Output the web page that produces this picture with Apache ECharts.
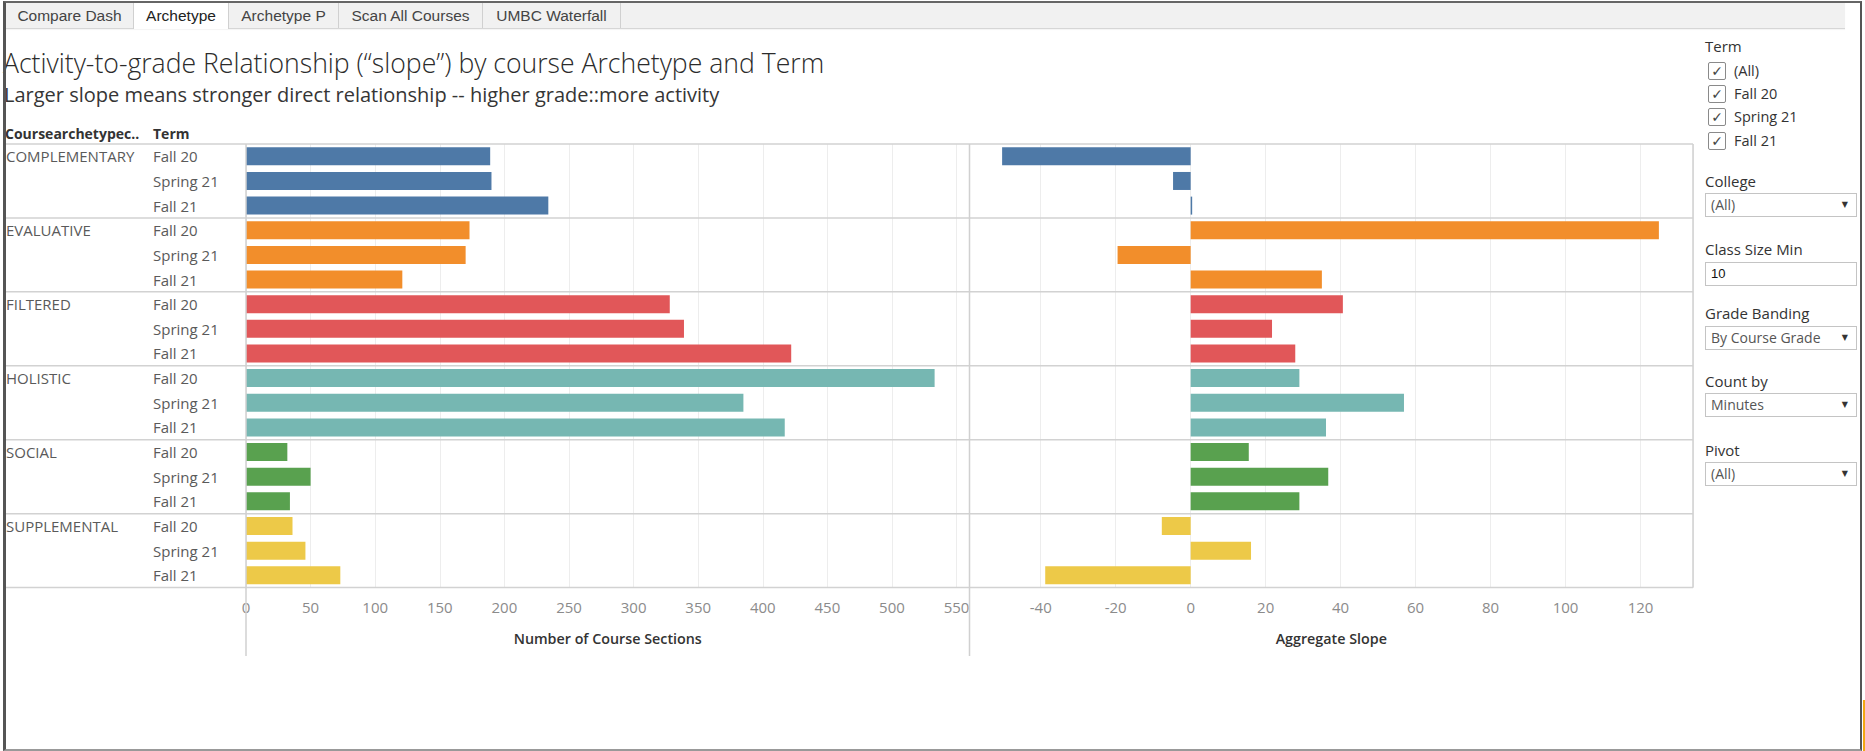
<!DOCTYPE html>
<html>
<head>
<meta charset="utf-8">
<title>Activity-to-grade Relationship by course Archetype and Term</title>
<script src="https://cdn.jsdelivr.net/npm/echarts@6/dist/echarts.min.js"></script>
<style>
  html, body { margin: 0; padding: 0; width: 1865px; height: 751px; overflow: hidden; background: #fff; }
  body { position: relative; font-family: "Open Sans", sans-serif; color: #333; }
  #chart { position: absolute; left: 0; top: 0; width: 1865px; height: 751px; }
  #frame { position: absolute; left: 3px; top: 1px; width: 1854px; height: 746px;
           border-left: 3px solid #555; border-top: 2px solid #666; border-right: 2px solid #555; border-bottom: 2px solid #999;
           pointer-events: none; }
  #edge { position: absolute; left: 1863px; top: 700px; width: 2px; height: 51px; background: #f3a712; }
  #tabs { position: absolute; left: 6px; top: 3px; width: 1839px; height: 25px; background: #f1f1f1;
          border-bottom: 1px solid #d6d6d6; box-shadow: 0 1px 1px rgba(0,0,0,0.04); font-family: "Liberation Sans", Arial, sans-serif; }
  .tab { position: absolute; top: 0; height: 25px; line-height: 26px; text-align: center; font-size: 15.5px; color: #444;
         border-right: 1px solid #d0d0d0; box-sizing: border-box; }
  .tab.active { background: #fff; height: 26px; color: #222; border-left: 1px solid #d0d0d0; }
  .lbl { position: absolute; left: 1705px; font-size: 15px; color: #333; line-height: 20px; }
  .chk { position: absolute; left: 1708px; width: 16px; height: 16px; border: 1px solid #8a8a8a; border-radius: 2px;
         font-family: "DejaVu Sans", sans-serif; font-size: 14px; line-height: 16px; text-align: center; color: #444; }
  .chkt { position: absolute; left: 1734px; font-size: 14.5px; color: #333; line-height: 20px; }
  .box { position: absolute; left: 1705px; width: 152px; height: 24px; border: 1px solid #c4c4c4; box-sizing: border-box;
         font-size: 14px; color: #555; line-height: 22px; padding-left: 5px; }
  .box .arr { position: absolute; right: 8px; top: 0; font-family: "DejaVu Sans", sans-serif; font-size: 8px; color: #333; }
  .box.input { color: #111; font-family: "Liberation Sans", Arial, sans-serif; font-size: 13px; }
</style>
</head>
<body>
<div id="chart"></div>

<div id="tabs">
  <div class="tab" style="left:0;width:128px;">Compare Dash</div>
  <div class="tab active" style="left:127px;width:96px;">Archetype</div>
  <div class="tab" style="left:223px;width:110px;">Archetype P</div>
  <div class="tab" style="left:333px;width:144px;">Scan All Courses</div>
  <div class="tab" style="left:477px;width:138px;">UMBC Waterfall</div>
</div>

<!-- filter panel -->
<div class="lbl" style="top:36px;">Term</div>
<div class="chk" style="top:62px;">✓</div><div class="chkt" style="top:61px;">(All)</div>
<div class="chk" style="top:85px;">✓</div><div class="chkt" style="top:84px;">Fall 20</div>
<div class="chk" style="top:108px;">✓</div><div class="chkt" style="top:107px;">Spring 21</div>
<div class="chk" style="top:132px;">✓</div><div class="chkt" style="top:131px;">Fall 21</div>

<div class="lbl" style="top:171px;">College</div>
<div class="box" style="top:193px;">(All)<span class="arr">▼</span></div>
<div class="lbl" style="top:239px;">Class Size Min</div>
<div class="box input" style="top:262px;">10</div>
<div class="lbl" style="top:303px;">Grade Banding</div>
<div class="box" style="top:326px;">By Course Grade<span class="arr">▼</span></div>
<div class="lbl" style="top:371px;">Count by</div>
<div class="box" style="top:393px;">Minutes<span class="arr">▼</span></div>
<div class="lbl" style="top:440px;">Pivot</div>
<div class="box" style="top:462px;">(All)<span class="arr">▼</span></div>

<div id="edge"></div>
<div id="frame"></div>

<script>
// Course archetypes (row groups) and terms (rows inside each group)
const archetypes = ['COMPLEMENTARY', 'EVALUATIVE', 'FILTERED', 'HOLISTIC', 'SOCIAL', 'SUPPLEMENTAL'];
const terms = ['Fall 20', 'Spring 21', 'Fall 21'];

// Number of course sections, one value per archetype/term row
const courseSections = [189, 190, 234, 173, 170, 121, 328, 339, 422, 533, 385, 417, 32, 50, 34, 36, 46, 73];
// Aggregate activity-to-grade slope, one value per archetype/term row
const aggregateSlope = [-50.3, -4.7, 0.4, 124.9, -19.5, 35.0, 40.6, 21.7, 27.9, 29.0, 56.9, 36.1, 15.5, 36.7, 29.0, -7.7, 16.1, -38.8];

// Axis tick labels
const sectionTicks = [0, 50, 100, 150, 200, 250, 300, 350, 400, 450, 500, 550];
const slopeTicks = [-40, -20, 0, 20, 40, 60, 80, 100, 120];

// One colour per archetype
const palette = ['#4e79a7', '#f28e2b', '#e15759', '#76b7b2', '#59a14f', '#edc948'];

const rowKeys = [];
archetypes.forEach(a => terms.forEach(t => rowKeys.push(a + '|' + t)));

const FONT = '"Open Sans", sans-serif';
const colorOf = p => palette[Math.floor(p.dataIndex / terms.length)];
const PANE_TOP = 144, PANE_H = 443.6, LINE_BOTTOM = 656;

const chart = echarts.init(document.getElementById('chart'), null, { renderer: 'svg' });

const tickLabel = (list) => ({
  color: '#8b8b8b', fontSize: 15, fontFamily: FONT, margin: 12,
  formatter: v => (list.indexOf(Math.round(v * 1000) / 1000) >= 0 ? String(v) : '')
});
const axisName = {
  color: '#333', fontSize: 14.3, fontWeight: 600, fontFamily: FONT
};

const option = {
  animation: false,
  textStyle: { fontFamily: FONT },
  grid: [
    { left: 246, top: PANE_TOP, width: 723.5, height: PANE_H, outerBoundsMode: 'none', containLabel: false },
    { left: 969.5, top: PANE_TOP, width: 723.5, height: PANE_H, outerBoundsMode: 'none', containLabel: false }
  ],
  xAxis: [
    {
      gridIndex: 0, type: 'value', min: 0, max: 560, splitNumber: 11,
      axisLine: { show: false }, axisTick: { show: false },
      splitLine: { show: true, lineStyle: { color: '#ededed', width: 1 } },
      axisLabel: tickLabel(sectionTicks),
      name: 'Number of Course Sections', nameLocation: 'middle', nameGap: 44, nameTextStyle: axisName
    },
    {
      gridIndex: 1, type: 'value', min: -59, max: 134, splitNumber: 10,
      axisLine: { show: false }, axisTick: { show: false },
      splitLine: { show: true, lineStyle: { color: '#ededed', width: 1 } },
      axisLabel: tickLabel(slopeTicks),
      name: 'Aggregate Slope', nameLocation: 'middle', nameGap: 44, nameTextStyle: axisName
    }
  ],
  yAxis: [
    {
      gridIndex: 0, type: 'category', data: rowKeys, inverse: true,
      axisLine: { show: false }, axisTick: { show: false }, splitLine: { show: false },
      axisLabel: {
        interval: 0, align: 'left', margin: 240,
        formatter: (value, index) => {
          const parts = value.split('|');
          const group = index % terms.length === 0 ? parts[0] : ' ';
          return '{a|' + group + '}{t|' + parts[1] + '}';
        },
        rich: {
          a: { width: 147, fontSize: 15, color: '#5a5a5a', fontFamily: FONT },
          t: { fontSize: 15, color: '#5a5a5a', fontFamily: FONT }
        }
      }
    },
    {
      gridIndex: 1, type: 'category', data: rowKeys, inverse: true,
      axisLine: { show: false }, axisTick: { show: false }, axisLabel: { show: false }, splitLine: { show: false }
    }
  ],
  series: [
    { type: 'bar', name: 'Number of Course Sections', xAxisIndex: 0, yAxisIndex: 0, data: courseSections,
      barWidth: 18, itemStyle: { color: colorOf } },
    { type: 'bar', name: 'Aggregate Slope', xAxisIndex: 1, yAxisIndex: 1, data: aggregateSlope,
      barWidth: 18, itemStyle: { color: colorOf } }
  ]
};
chart.setOption(option);

// Pane borders and archetype separators, placed from the axes' own scales
const rowY = i => chart.convertToPixel({ yAxisIndex: 0 }, rowKeys[i]);
const pitch = rowY(1) - rowY(0);
const xZero = chart.convertToPixel({ xAxisIndex: 0 }, 0);
const xSplit = chart.convertToPixel({ xAxisIndex: 1 }, -59);
const xRight = chart.convertToPixel({ xAxisIndex: 1 }, 134);
const yTop = rowY(0) - pitch / 2;
const yBottom = rowY(rowKeys.length - 1) + pitch / 2;

const lines = [];
const hLine = (y) => ({
  type: 'line', silent: true, z: 50,
  shape: { x1: 5, y1: y, x2: xRight, y2: y },
  style: { stroke: '#d2d2d2', lineWidth: 1.5 }
});
lines.push(hLine(yTop));
for (let g = 1; g < archetypes.length; g++) {
  lines.push(hLine(rowY(g * terms.length) - pitch / 2));
}
lines.push(hLine(yBottom));
[[xZero, LINE_BOTTOM], [xSplit, LINE_BOTTOM], [xRight, yBottom]].forEach(([x, yEnd]) => {
  lines.push({
    type: 'line', silent: true, z: 50,
    shape: { x1: x, y1: yTop, x2: x, y2: yEnd },
    style: { stroke: '#d0d0d0', lineWidth: 1.5 }
  });
});

// Title, subtitle and row header captions
const texts = [
  { text: 'Activity-to-grade Relationship (“slope”) by course Archetype and Term', x: 3, y: 63, size: 26.6, weight: 300, color: '#2b2b2b' },
  { text: 'Larger slope means stronger direct relationship -- higher grade::more activity', x: 4, y: 94, size: 20, weight: 400, color: '#353535' },
  { text: 'Coursearchetypec..', x: 5, y: 133, size: 14, weight: 700, color: '#333' },
  { text: 'Term', x: 153, y: 133, size: 14, weight: 700, color: '#333' }
].map(t => ({
  type: 'text', silent: true, x: t.x, y: t.y,
  style: { text: t.text, fill: t.color, fontSize: t.size, fontWeight: t.weight, fontFamily: FONT, verticalAlign: 'middle', align: 'left' }
}));

chart.setOption({ graphic: { elements: lines.concat(texts) } });
</script>
</body>
</html>
